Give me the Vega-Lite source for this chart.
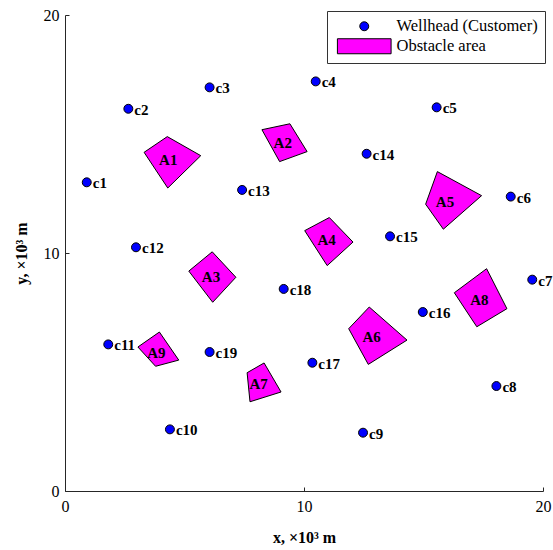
{
  "$schema": "https://vega.github.io/schema/vega-lite/v6.json",
  "width": 478,
  "height": 476,
  "autosize": {"type": "none"},
  "padding": {"left": 65, "top": 15, "right": 10, "bottom": 59},
  "background": "white",
  "config": {
    "view": {"stroke": null},
    "font": "Liberation Serif",
    "axis": {
      "grid": false,
      "domainColor": "#262626",
      "tickColor": "#262626",
      "tickSize": -4,
      "labelFlush": false,
      "labelFont": "Liberation Serif",
      "labelFontSize": 16,
      "labelColor": "black",
      "titleFont": "Liberation Serif",
      "titleFontSize": 16,
      "titleFontWeight": "bold",
      "titleColor": "black"
    }
  },
  "datasets": {
    "wells": [
      {"name": "c1", "kind": "Wellhead (Customer)", "x": 0.91, "y": 12.97},
      {"name": "c2", "kind": "Wellhead (Customer)", "x": 2.65, "y": 16.06},
      {"name": "c3", "kind": "Wellhead (Customer)", "x": 6.05, "y": 16.96},
      {"name": "c4", "kind": "Wellhead (Customer)", "x": 10.49, "y": 17.21},
      {"name": "c5", "kind": "Wellhead (Customer)", "x": 15.55, "y": 16.12},
      {"name": "c6", "kind": "Wellhead (Customer)", "x": 18.65, "y": 12.37},
      {"name": "c7", "kind": "Wellhead (Customer)", "x": 19.55, "y": 8.88},
      {"name": "c8", "kind": "Wellhead (Customer)", "x": 18.05, "y": 4.41},
      {"name": "c9", "kind": "Wellhead (Customer)", "x": 12.47, "y": 2.45},
      {"name": "c10", "kind": "Wellhead (Customer)", "x": 4.39, "y": 2.59},
      {"name": "c11", "kind": "Wellhead (Customer)", "x": 1.81, "y": 6.16},
      {"name": "c12", "kind": "Wellhead (Customer)", "x": 2.97, "y": 10.24},
      {"name": "c13", "kind": "Wellhead (Customer)", "x": 7.41, "y": 12.65},
      {"name": "c14", "kind": "Wellhead (Customer)", "x": 12.62, "y": 14.17},
      {"name": "c15", "kind": "Wellhead (Customer)", "x": 13.6, "y": 10.7},
      {"name": "c16", "kind": "Wellhead (Customer)", "x": 14.97, "y": 7.52},
      {"name": "c17", "kind": "Wellhead (Customer)", "x": 10.35, "y": 5.39},
      {"name": "c18", "kind": "Wellhead (Customer)", "x": 9.15, "y": 8.49},
      {"name": "c19", "kind": "Wellhead (Customer)", "x": 6.05, "y": 5.84}
    ],
    "obstacles": [
      {"id": "A1", "i": 0, "x": 4.28, "y": 14.89},
      {"id": "A1", "i": 1, "x": 5.68, "y": 14.09},
      {"id": "A1", "i": 2, "x": 4.3, "y": 12.73},
      {"id": "A1", "i": 3, "x": 3.31, "y": 14.23},
      {"id": "A1", "i": 4, "x": 4.28, "y": 14.89},
      {"id": "A2", "i": 0, "x": 8.24, "y": 15.18},
      {"id": "A2", "i": 1, "x": 9.41, "y": 15.43},
      {"id": "A2", "i": 2, "x": 10.13, "y": 14.26},
      {"id": "A2", "i": 3, "x": 8.98, "y": 13.84},
      {"id": "A2", "i": 4, "x": 8.24, "y": 15.18},
      {"id": "A3", "i": 0, "x": 6.16, "y": 10.05},
      {"id": "A3", "i": 1, "x": 7.15, "y": 8.98},
      {"id": "A3", "i": 2, "x": 6.18, "y": 7.93},
      {"id": "A3", "i": 3, "x": 5.18, "y": 9.24},
      {"id": "A3", "i": 4, "x": 6.16, "y": 10.05},
      {"id": "A4", "i": 0, "x": 11.06, "y": 11.49},
      {"id": "A4", "i": 1, "x": 12.05, "y": 10.46},
      {"id": "A4", "i": 2, "x": 10.97, "y": 9.47},
      {"id": "A4", "i": 3, "x": 10.03, "y": 10.94},
      {"id": "A4", "i": 4, "x": 11.06, "y": 11.49},
      {"id": "A5", "i": 0, "x": 15.58, "y": 13.42},
      {"id": "A5", "i": 1, "x": 17.43, "y": 12.41},
      {"id": "A5", "i": 2, "x": 15.83, "y": 11.0},
      {"id": "A5", "i": 3, "x": 15.09, "y": 12.05},
      {"id": "A5", "i": 4, "x": 15.58, "y": 13.42},
      {"id": "A6", "i": 0, "x": 12.73, "y": 7.73},
      {"id": "A6", "i": 1, "x": 14.31, "y": 6.34},
      {"id": "A6", "i": 2, "x": 12.69, "y": 5.32},
      {"id": "A6", "i": 3, "x": 11.87, "y": 6.82},
      {"id": "A6", "i": 4, "x": 12.73, "y": 7.73},
      {"id": "A7", "i": 0, "x": 8.33, "y": 5.38},
      {"id": "A7", "i": 1, "x": 9.04, "y": 4.16},
      {"id": "A7", "i": 2, "x": 7.74, "y": 3.75},
      {"id": "A7", "i": 3, "x": 7.62, "y": 4.97},
      {"id": "A7", "i": 4, "x": 8.33, "y": 5.38},
      {"id": "A8", "i": 0, "x": 17.64, "y": 9.34},
      {"id": "A8", "i": 1, "x": 18.49, "y": 7.66},
      {"id": "A8", "i": 2, "x": 17.23, "y": 6.9},
      {"id": "A8", "i": 3, "x": 16.29, "y": 8.33},
      {"id": "A8", "i": 4, "x": 17.64, "y": 9.34},
      {"id": "A9", "i": 0, "x": 3.95, "y": 6.68},
      {"id": "A9", "i": 1, "x": 4.76, "y": 5.5},
      {"id": "A9", "i": 2, "x": 3.79, "y": 5.24},
      {"id": "A9", "i": 3, "x": 3.05, "y": 6.05},
      {"id": "A9", "i": 4, "x": 3.95, "y": 6.68}
    ],
    "obstacleLabels": [
      {"name": "A1", "x": 4.32, "y": 13.91},
      {"name": "A2", "x": 9.11, "y": 14.61},
      {"name": "A3", "x": 6.11, "y": 8.98},
      {"name": "A4", "x": 10.95, "y": 10.55},
      {"name": "A5", "x": 15.9, "y": 12.16},
      {"name": "A6", "x": 12.83, "y": 6.48},
      {"name": "A7", "x": 8.1, "y": 4.5},
      {"name": "A8", "x": 17.34, "y": 8.03},
      {"name": "A9", "x": 3.82, "y": 5.81}
    ]
  },
  "encoding": {
    "x": {
      "field": "x", "type": "quantitative",
      "scale": {"domain": [0, 20], "nice": false, "zero": false},
      "axis": {"title": "x, ×10³ m", "values": [0, 10, 20], "labelPadding": 11, "titlePadding": 15}
    },
    "y": {
      "field": "y", "type": "quantitative",
      "scale": {"domain": [0, 20], "nice": false, "zero": false},
      "axis": {"title": "y, ×10³ m", "values": [0, 10, 20], "labelPadding": 10, "titlePadding": 14}
    }
  },
  "layer": [
    {
      "data": {"name": "obstacles"},
      "mark": {"type": "line", "fill": "#ff00ff", "stroke": "black", "strokeWidth": 1},
      "encoding": {
        "detail": {"field": "id"},
        "order": {"field": "i", "type": "quantitative"}
      }
    },
    {
      "data": {"name": "obstacleLabels"},
      "mark": {"type": "text", "font": "Liberation Serif", "fontWeight": "bold", "fontSize": 15, "color": "black", "align": "center", "baseline": "middle"},
      "encoding": {"text": {"field": "name"}}
    },
    {
      "data": {"name": "wells"},
      "mark": {"type": "point", "filled": true, "stroke": "black", "strokeWidth": 1, "size": 80, "opacity": 1},
      "encoding": {
        "fill": {
          "field": "kind", "type": "nominal",
          "scale": {"domain": ["Wellhead (Customer)", "Obstacle area"], "range": ["#0000ff", "#ff00ff"]},
          "legend": {
            "title": null,
            "orient": "none",
            "legendX": 262,
            "legendY": -4,
            "fillColor": "white",
            "strokeColor": "#333333",
            "padding": 7,
            "labelFont": "Liberation Serif",
            "labelFontSize": 16.5,
            "labelColor": "black",
            "labelOffset": 24,
            "symbolOffset": 22,
            "symbolSize": 80,
            "symbolStrokeColor": "black",
            "symbolStrokeWidth": 1,
            "rowPadding": 1
          }
        },
        "shape": {
          "field": "kind", "type": "nominal",
          "scale": {"domain": ["Wellhead (Customer)", "Obstacle area"], "range": ["circle", "M-6,-1.68H6V1.68H-6Z"]}
        }
      }
    },
    {
      "data": {"name": "wells"},
      "mark": {"type": "text", "font": "Liberation Serif", "fontWeight": "bold", "fontSize": 15, "color": "black", "align": "left", "baseline": "middle", "dx": 6, "dy": 1},
      "encoding": {"text": {"field": "name"}}
    }
  ]
}
